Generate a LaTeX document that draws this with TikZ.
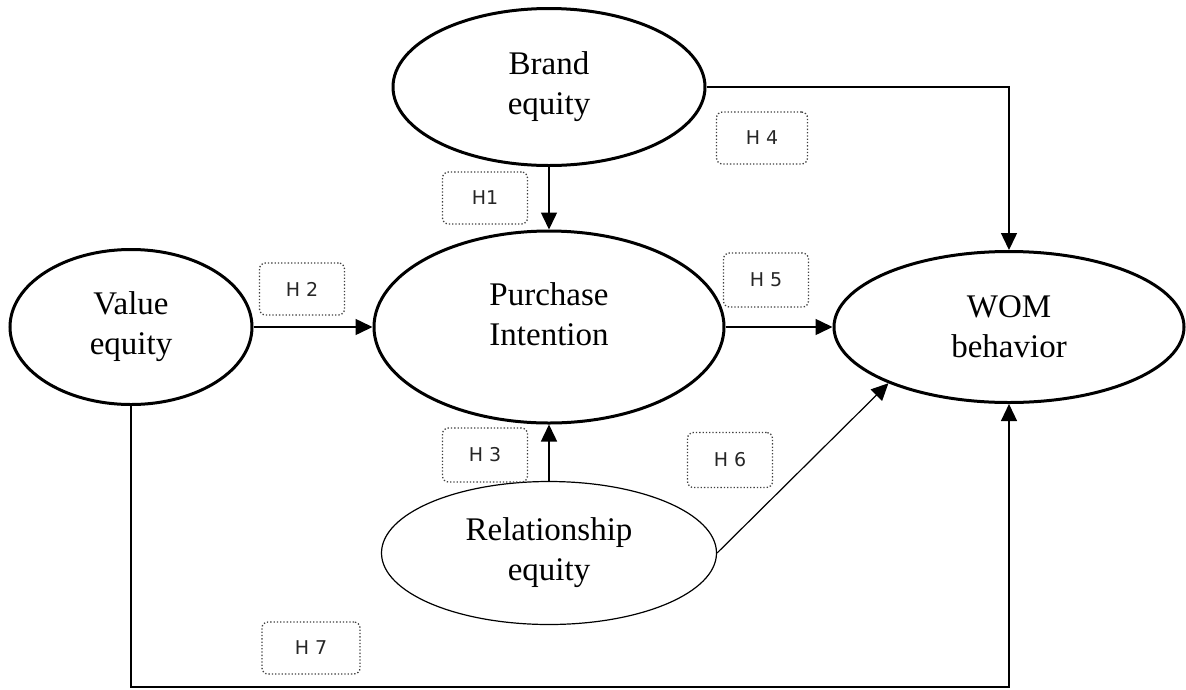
\documentclass[tikz,border=0pt]{standalone}
\usepackage{fontspec}
\setmainfont{Liberation Serif}
\newfontfamily\hypfont{DejaVu Sans}
\usetikzlibrary{arrows.meta,shapes.geometric}

\begin{document}
\begin{tikzpicture}[x=1pt,y=-1pt,
    construct/.style={ellipse, draw, line width=3pt, inner sep=0pt, align=center,
        font=\fontsize{33}{40}\selectfont},
    hyp/.style={draw=black!75, dotted, line width=1.3pt, rounded corners=6pt, minimum width=85pt,
        minimum height=52pt, text=black!85, font=\hypfont\fontsize{19}{22}\selectfont},
    arr/.style={line width=1.5pt, -{Triangle[length=17pt,width=16pt]}}]

        \useasboundingbox (0,0) rectangle (1186,689);

        %===========================
        % Constructs
        %===========================

        \node (B) at (549,87) [construct, minimum width=312pt, minimum height=157pt]{Brand\\equity};
        \node (V) at (131,327) [construct, minimum width=242pt, minimum height=155pt]{Value\\equity};
        \node (P) at (549,327) [construct, minimum width=350pt, minimum height=192pt, text depth=26pt]{Purchase\\Intention};
        \node (W) at (1009,327) [construct, minimum width=350pt, minimum height=151pt]{WOM\\behavior};
        \node (R) at (549,553) [construct, line width=1.2pt, minimum width=335pt, minimum height=143pt]{Relationship\\equity};

        \coordinate (low) at (0,687);

        %===========================
        % Hypotheses
        %===========================

        \node (H1) at (485,198) [hyp]{H1};
        \node (H2) at (302,289) [hyp]{H 2};
        \node (H3) at (485,455) [hyp, minimum height=54pt]{H 3};
        \node (H4) at (762,138) [hyp, minimum width=91pt]{H 4};
        \node (H5) at (766,280) [hyp, minimum height=54pt]{H 5};
        \node (H6) at (730,460) [hyp, minimum height=55pt]{H 6};
        \node (H7) at (311,648) [hyp, minimum width=98pt]{H 7};

        %===========================
        % Paths
        %===========================

        \draw[arr] (B.south) to (P.north);
        \draw[arr] (V.east) to (P.west);
        \draw[arr] (R.north) to (P.south);
        \draw[arr] (P.east) to (W.west);
        \draw[arr] (B.east) -| (W.north);
        \draw[arr, line width=1.2pt] (R.east) to (W.205);
        \draw[arr, line width=1.2pt] (V.south) -- (V.south |- low) -| (W.south);
\end{tikzpicture}
\end{document}
